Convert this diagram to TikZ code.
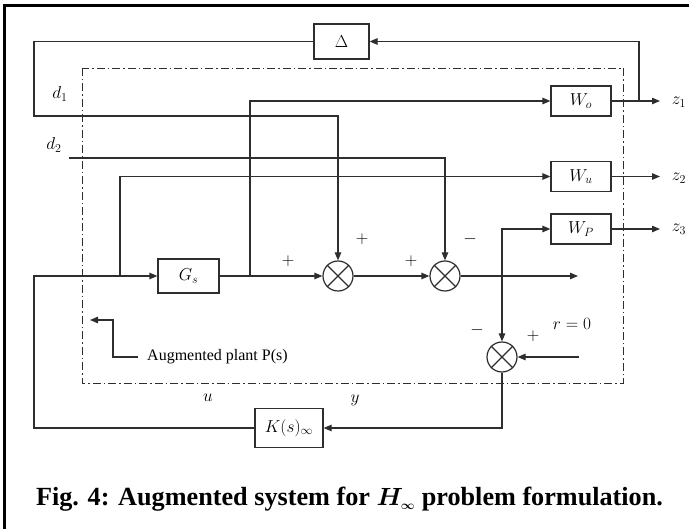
\documentclass[tikz,border=0pt]{standalone}
\usepackage{amsmath}
\usepackage{fontspec}
\setmainfont{Liberation Serif}
\usetikzlibrary{arrows.meta}
% larger subscripts for the block and signal labels
\DeclareMathSizes{16}{16}{12.5}{9}
\DeclareMathSizes{17}{17}{13}{10}
\definecolor{ink}{HTML}{2E2E2E}
\tikzset{
  wire/.style={draw=ink, line width=1.2pt},
  arr/.style={wire, -{Triangle[length=8pt,width=6.5pt]}},
  blk/.style={draw=ink, line width=1.2pt, rectangle, minimum width=60pt, minimum height=30pt, inner sep=0pt, font=\fontsize{16}{18}\selectfont},
  sumc/.style={draw=ink, line width=1.2pt, circle, minimum size=30pt, inner sep=0pt},
  lbl/.style={font=\fontsize{17}{19}\selectfont, inner sep=0pt},
  sgn/.style={font=\fontsize{17}{19}\selectfont, inner sep=0pt},
  dashdot/.style={draw=ink, line width=0.9pt, dash pattern=on 8pt off 3pt on 1.5pt off 3pt},
}
\newcommand{\crossit}[1]{\draw[wire] (#1.north west) -- (#1.south east) (#1.north east) -- (#1.south west);}
\begin{document}
\begin{tikzpicture}[x=1pt, y=-1pt]
\useasboundingbox (0,0) rectangle (689,529);

% outer frame
\draw[line width=2.5pt, black] (4.5,529) -- (4.5,5.5) -- (689,5.5);

% augmented plant boundary
\draw[dashdot] (82,68) rectangle (623,383);

% blocks
\node[blk, minimum width=55pt, minimum height=35pt] (delta) at (341.5,41.5) {$\Delta$};
\node[blk] (wo) at (581,101) {$W_o$};
\node[blk] (wu) at (581,176.5) {$W_u$};
\node[blk] (wp) at (581,229) {$W_P$};
\node[blk, minimum width=61pt, minimum height=34pt] (gs) at (188.5,276) {$G_s$};
\node[blk, minimum width=68pt, minimum height=39pt] (k) at (289,428) {$K(s)_\infty$};

% summing junctions
\node[sumc] (s1) at (338,276) {};
\node[sumc] (s2) at (445,276) {};
\node[sumc] (s3) at (502,357) {};
\crossit{s1}
\crossit{s2}
\crossit{s3}

% junction and corner points
\coordinate (cL) at (34,428);
\coordinate (cLt) at (34,276);
\coordinate (ju) at (120,276);
\coordinate (jo) at (250,276);
\coordinate (pj) at (502,276);
\coordinate (eout) at (578,276);
\coordinate (rin) at (579,357);
\coordinate (jz) at (639,101);
\coordinate (z1e) at (660,101);
\coordinate (z2e) at (660,176.5);
\coordinate (z3e) at (660,229);
\coordinate (d1a) at (34,41.5);
\coordinate (d1b) at (34,116);
\coordinate (d2s) at (69,158);

% signal paths
\draw[arr] (k.west) -- (cL) -- (cLt) -- (gs.west);
\draw[arr] (ju) |- (wu.west);
\draw[arr] (gs.east) -- (s1.west);
\draw[arr] (jo) |- (wo.west);
\draw[arr] (s1.east) -- (s2.west);
\draw[arr] (s2.east) -- (eout);
\draw[arr] (pj) |- (wp.west);
\draw[arr] (pj) -- (s3.north);
\draw[arr] (rin) -- (s3.east);
\draw[arr] (s3.south) |- (k.east);
\draw[arr] (wo.east) -- (z1e);
\draw[arr] (wu.east) -- (z2e);
\draw[arr] (wp.east) -- (z3e);
\draw[arr] (jz) |- (delta.east);
\draw[arr] (delta.west) -- (d1a) -- (d1b) -| (s1.north);
\draw[arr] (d2s) -| (s2.north);

% signal labels
\node[lbl] (ld1) at (60,94) {$d_1$};
\node[lbl] (ld2) at (54,145) {$d_2$};
\node[lbl] (lz1) at (679,102) {$z_1$};
\node[lbl] (lz2) at (679,178) {$z_2$};
\node[lbl] (lz3) at (679,229) {$z_3$};
\node[lbl] (lu) at (208,398) {$u$};
\node[lbl] (ly) at (355,400) {$y$};
\node[lbl] (lr) at (572,324) {$r=0$};

% signs at the junction inputs
\node[sgn] (p1) at (288,261) {$+$};
\node[sgn] (p2) at (362,239) {$+$};
\node[sgn] (p3) at (411,261) {$+$};
\node[sgn] (m1) at (470,239) {$-$};
\node[sgn] (m2) at (477,330) {$-$};
\node[sgn] (p4) at (533,336) {$+$};

% plant annotation
\node[font=\fontsize{16}{18}\selectfont, anchor=west, inner sep=0pt] (apl) at (147,357) {Augmented plant P(s)};
\coordinate (a1) at (138,357);
\coordinate (a2) at (113,357);
\coordinate (a3) at (113,320);
\coordinate (a4) at (90,320);
\draw[arr] (a1) -- (a2) -- (a3) -- (a4);

% caption
\node[font=\fontsize{26.2}{30}\selectfont\bfseries, inner sep=0pt] (cap) at (349.5,499) {Fig. 4: Augmented system for $\boldsymbol{H_{\scriptscriptstyle\infty}}$ problem formulation.};
\end{tikzpicture}
\end{document}
